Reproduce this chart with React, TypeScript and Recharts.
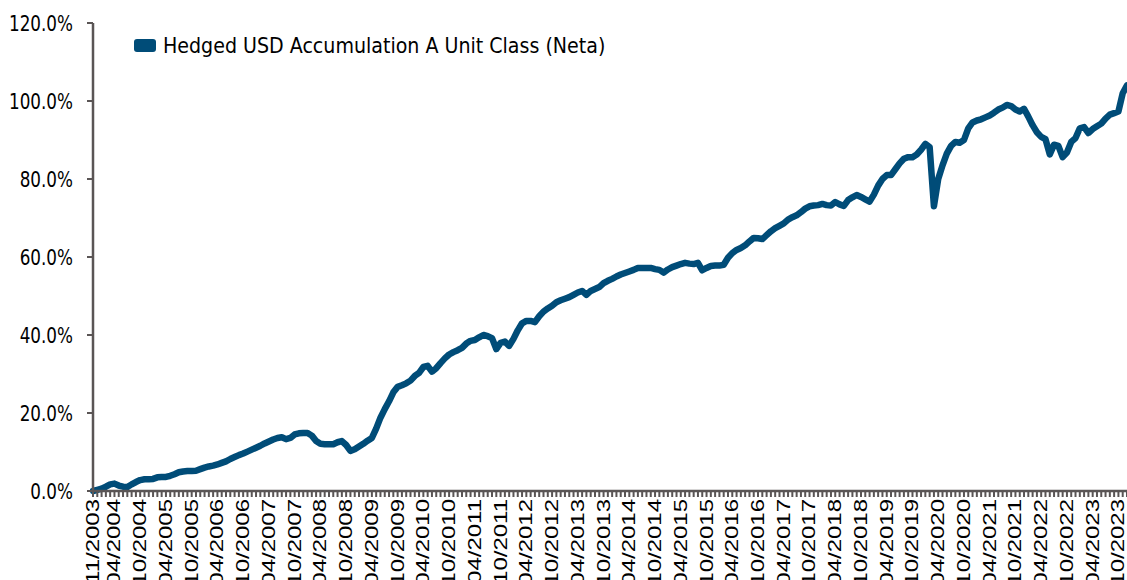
import { LineChart, Line, XAxis, YAxis, Legend } from 'recharts'

// Cumulative performance (%), monthly from 11/2003, one array per calendar year
const v2003 = [0, 0.3]
const v2004 = [0.6, 1.1, 1.7, 1.9, 1.4, 1.1, 1.0, 1.7, 2.3, 2.8, 3.0, 3.0]
const v2005 = [3.1, 3.5, 3.6, 3.6, 3.9, 4.3, 4.8, 5.0, 5.1, 5.1, 5.2, 5.6]
const v2006 = [6.0, 6.3, 6.5, 6.8, 7.2, 7.6, 8.2, 8.7, 9.2, 9.6, 10.1, 10.6]
const v2007 = [11.1, 11.6, 12.2, 12.7, 13.2, 13.6, 13.8, 13.3, 13.6, 14.5, 14.8, 14.9]
const v2008 = [14.9, 14.2, 12.8, 12.1, 12.0, 12.0, 12.0, 12.5, 12.8, 11.8, 10.3, 10.7]
const v2009 = [11.4, 12.1, 12.9, 13.6, 16.0, 18.8, 21.0, 23.0, 25.3, 26.7, 27.1, 27.6]
const v2010 = [28.3, 29.5, 30.3, 31.8, 32.1, 30.6, 31.5, 32.8, 34.0, 35.0, 35.6, 36.1]
const v2011 = [36.7, 37.8, 38.5, 38.7, 39.4, 40.0, 39.7, 39.2, 36.4, 38.0, 38.3, 37.2]
const v2012 = [39.0, 41.2, 43.0, 43.6, 43.6, 43.3, 44.8, 46.0, 46.8, 47.5, 48.4, 48.9]
const v2013 = [49.3, 49.7, 50.3, 50.9, 51.3, 50.3, 51.3, 51.8, 52.3, 53.3, 53.9, 54.4]
const v2014 = [55.0, 55.5, 55.9, 56.3, 56.7, 57.2, 57.2, 57.2, 57.2, 56.9, 56.7, 56.0]
const v2015 = [56.8, 57.4, 57.8, 58.2, 58.5, 58.3, 58.2, 58.5, 56.6, 57.2, 57.7, 57.8]
const v2016 = [57.8, 58.0, 59.8, 61.0, 61.8, 62.3, 63.0, 64.0, 64.9, 64.8, 64.6, 65.6]
const v2017 = [66.6, 67.4, 68.0, 68.6, 69.6, 70.2, 70.7, 71.5, 72.4, 73.0, 73.2, 73.3]
const v2018 = [73.6, 73.3, 73.2, 74.1, 73.5, 73.1, 74.6, 75.3, 75.9, 75.4, 74.8, 74.2]
const v2019 = [76.0, 78.3, 80.0, 81.0, 81.0, 82.5, 84.0, 85.2, 85.6, 85.6, 86.3, 87.5]
const v2020 = [89.0, 88.2, 73.0, 80.0, 83.5, 86.5, 88.5, 89.5, 89.3, 90.0, 93.0, 94.5]
const v2021 = [95.0, 95.3, 95.8, 96.3, 97.0, 97.8, 98.3, 99.0, 98.7, 97.8, 97.3, 98.0]
const v2022 = [96.0, 93.8, 92.0, 90.8, 90.2, 86.3, 88.8, 88.5, 85.6, 86.8, 89.5, 90.5]
const v2023 = [93.0, 93.3, 91.8, 92.8, 93.5, 94.2, 95.5, 96.5, 96.9, 97.3, 102.0, 104.0]

const values = [
  ...v2003, ...v2004, ...v2005, ...v2006, ...v2007, ...v2008, ...v2009,
  ...v2010, ...v2011, ...v2012, ...v2013, ...v2014, ...v2015, ...v2016,
  ...v2017, ...v2018, ...v2019, ...v2020, ...v2021, ...v2022, ...v2023,
]

const START_YEAR = 2003
const START_MONTH = 11

const labelTicks = [
  '11/2003', '04/2004', '10/2004', '04/2005', '10/2005', '04/2006', '10/2006',
  '04/2007', '10/2007', '04/2008', '10/2008', '04/2009', '10/2009', '04/2010',
  '10/2010', '04/2011', '10/2011', '04/2012', '10/2012', '04/2013', '10/2013',
  '04/2014', '10/2014', '04/2015', '10/2015', '04/2016', '10/2016', '04/2017',
  '10/2017', '04/2018', '10/2018', '04/2019', '10/2019', '04/2020', '10/2020',
  '04/2021', '10/2021', '04/2022', '10/2022', '04/2023', '10/2023',
]

const yTicks = [0, 20, 40, 60, 80, 100, 120]

const SERIES_NAME = 'Hedged USD Accumulation A Unit Class (Neta)'
const LINE_COLOR = '#004c78'
const AXIS_COLOR = '#5a5555'

const data = values.map((v, i) => {
  const m = ((START_MONTH - 1 + i) % 12) + 1
  const y = START_YEAR + Math.floor((START_MONTH - 1 + i) / 12)
  return { date: `${String(m).padStart(2, '0')}/${y}`, value: v }
})

function XTick({ x, y, payload }: any) {
  if (!labelTicks.includes(payload.value)) return <g />
  return (
    <g transform={`translate(${x},${y})`}>
      <text
        transform="scale(0.76,1) rotate(-90)"
        textAnchor="end"
        dominantBaseline="central"
        fontFamily="'Liberation Sans', Arial, sans-serif"
        fontSize={24}
        fill="#000"
      >
        {payload.value}
      </text>
    </g>
  )
}

function YTick({ x, y, payload }: any) {
  return (
    <g transform={`translate(${x},${y})`}>
      <text
        transform="scale(0.8,1)"
        textAnchor="end"
        dominantBaseline="central"
        fontFamily="'DejaVu Sans', sans-serif"
        fontSize={21}
        fill="#000"
      >
        {`${payload.value.toFixed(1)}%`}
      </text>
    </g>
  )
}

function LegendContent() {
  return (
    <div style={{ display: 'flex', alignItems: 'center', whiteSpace: 'nowrap' }}>
      <span style={{ display: 'inline-block', width: 22, height: 13, borderRadius: 3, background: LINE_COLOR }} />
      <span
        style={{
          display: 'inline-block',
          marginLeft: 7,
          fontFamily: "'DejaVu Sans', sans-serif",
          fontSize: 22,
          color: '#000',
          transform: 'scaleX(0.865)',
          transformOrigin: 'left center',
        }}
      >
        {SERIES_NAME}
      </span>
    </div>
  )
}

export default function App() {
  return (
    <div style={{ position: 'absolute', left: 0, top: 0, background: '#fff' }}>
      <LineChart width={1127} height={580} data={data} margin={{ top: 23, right: 0, left: 0, bottom: 0 }}>
        <XAxis
          dataKey="date"
          interval={0}
          height={89}
          tick={<XTick />}
          tickSize={6}
          tickMargin={2}
          stroke={AXIS_COLOR}
          strokeWidth={2.5}
          tickLine={{ stroke: AXIS_COLOR, strokeWidth: 2 }}
        />
        <YAxis
          domain={[0, 120]}
          ticks={yTicks}
          width={93}
          tick={<YTick />}
          tickSize={6}
          tickMargin={14}
          stroke={AXIS_COLOR}
          strokeWidth={2.5}
          tickLine={{ stroke: AXIS_COLOR, strokeWidth: 2 }}
        />
        <Legend
          content={<LegendContent />}
          verticalAlign="middle"
          align="center"
          wrapperStyle={{ top: 33, left: 134, width: 'auto' }}
        />
        <Line
          type="linear"
          dataKey="value"
          name={SERIES_NAME}
          stroke={LINE_COLOR}
          strokeWidth={6.5}
          strokeLinejoin="round"
          strokeLinecap="round"
          dot={false}
          activeDot={false}
          isAnimationActive={false}
        />
      </LineChart>
    </div>
  )
}
